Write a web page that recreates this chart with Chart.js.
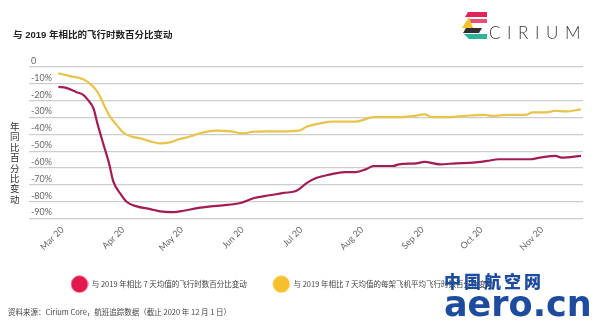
<!DOCTYPE html>
<html>
<head>
<meta charset="utf-8">
<script src="https://cdn.jsdelivr.net/npm/chart.js@4/dist/chart.umd.min.js"></script>
<style>
  html, body { margin: 0; padding: 0; background: #fff; }
  #wrap { position: relative; width: 600px; height: 325px; overflow: hidden; }
  #chart { position: absolute; left: 0; top: 0; }
  .yTitle { position: absolute; left: 10px; top: 121px; width: 11px; font: 9.5px/10.4px "Noto Sans CJK SC", sans-serif; color: #333; word-break: break-all; }
  .source { position: absolute; left: 8px; top: 306px; font: 7.5px "Noto Sans CJK SC", sans-serif; color: #444; white-space: nowrap; }
  .logo { position: absolute; left: 460px; top: 10px; }
  .logo span { position: absolute; left: 29px; top: 12px; font: 300 17px Lato, sans-serif; letter-spacing: 6.6px; color: #3a3a3a; }
  .mark { position: absolute; left: 444px; top: 268px; color: #1d4c9f; font-family: "DejaVu Sans", sans-serif; font-weight: bold; }
  .mark .cn { font-size: 17px; letter-spacing: 3px; font-family: "Noto Sans CJK SC", sans-serif; font-weight: 900; }
  .mark .en { position: absolute; left: 0; top: 16px; font-size: 35px; letter-spacing: 0px; }
</style>
</head>
<body>
<div id="wrap">
  <canvas id="chart" width="600" height="325"></canvas>
  <div class="yTitle">年同比百分比变动</div>
  <div class="source">资料来源：Cirium Core，航班追踪数据（截止 2020 年 12 月 1 日）</div>
  <div class="logo">
    <svg width="28" height="30" viewBox="0 0 28 30">
      <polygon points="8,2 27,2 27,7 5,7" fill="#e2245c"/>
      <polygon points="10,9 27,9 27,13 8,13" fill="#e94f6f"/>
      <polygon points="2,18 9,7 13,18" fill="#f3c230"/>
      <polygon points="6,18 22,18 19,23 3,23" fill="#2f2f2f"/>
      <polygon points="4,24 27,24 27,29 9,29" fill="#2bb39b"/>
    </svg>
    <span>CIRIUM</span>
  </div>
  <div class="mark"><div class="cn">中国航空网</div><div class="en">aero.cn</div></div>
</div>
<script>
// month ticks, counted in days from 1 Mar 2020
const monthStarts = [0, 31, 61, 92, 122, 153, 184, 214, 245]
const monthLabels = ["Mar 20", "Apr 20", "May 20", "Jun 20", "Jul 20", "Aug 20", "Sep 20", "Oct 20", "Nov 20"]

// y grid values
const pctTicks = [0, -10, -20, -30, -40, -50, -60, -70, -80, -90]

// 7-day average flight hours vs 2019 (%)
const hoursDays = [-2, 2, 7, 11, 13, 16, 18, 21, 24, 26, 30, 33, 38, 45, 50, 57, 62, 69, 76, 82, 91, 98, 106, 113, 119, 121, 125, 130, 137, 144, 150, 155, 159, 169, 172, 181, 185, 193, 201, 210, 217, 223, 239, 244, 252, 255, 265]
const hoursChange = [-11.8, -12.4, -14.8, -16.8, -19.4, -24.8, -33.8, -45.8, -57.8, -67.8, -75.8, -80.2, -82.8, -84.4, -85.8, -86.2, -85.4, -83.8, -82.8, -82.2, -80.8, -77.8, -76.2, -74.8, -73.8, -72.5, -68.8, -65.8, -63.8, -62.4, -62.4, -60.8, -58.8, -58.8, -57.8, -57.2, -56.4, -57.8, -57.2, -56.8, -55.8, -54.8, -54.8, -53.8, -52.8, -53.8, -52.8]

// 7-day average flight hours per aircraft vs 2019 (%)
const perAcDays = [-2, 4, 11, 14, 18, 21, 24, 28, 31, 35, 40, 45, 50, 55, 60, 65, 69, 74, 79, 86, 92, 98, 106, 113, 121, 125, 132, 138, 150, 159, 172, 179, 185, 189, 198, 206, 215, 220, 227, 237, 240, 247, 252, 257, 265]
const perAcChange = [-3.8, -5.4, -7.4, -9.8, -14.8, -21.8, -28.8, -34.8, -38.8, -41.2, -42.4, -44.2, -45.4, -44.8, -42.8, -41.4, -39.8, -38.4, -37.8, -38.2, -39.4, -38.4, -38.2, -38.2, -37.8, -35.4, -33.4, -32.4, -32.4, -29.8, -29.8, -29.2, -28.2, -29.8, -29.8, -29.0, -28.4, -29.0, -28.4, -28.4, -27.0, -27.0, -26.0, -26.4, -25.2]

const seriesNames = ["与 2019 年相比 7 天均值的飞行时数百分比变动", "与 2019 年相比 7 天均值的每架飞机平均飞行时数百分比变动"]
const lineColors = ["#a31b57", "#e8c44a"]
const dotColors = ["#e2194c", "#f6c02c"]

// round legend markers drawn once on small canvases
makeDot = (color) => {
	const c = document.createElement("canvas")
	c.width = 18
	c.height = 18
	const ctx = c.getContext("2d")
	ctx.fillStyle = color
	ctx.beginPath()
	ctx.arc(9, 9, 8.5, 0, Math.PI * 2)
	ctx.fill()
	return c
}
const dots = dotColors.map(makeDot)

const toPoints = (xs, ys) => xs.map((x, i) => ({x: x, y: ys[i]}))

// push the legend row right so it starts under the plot
const legendShift = {
	id: "legendShift",
	afterLayout: (chart) => {
		chart.legend.left += 32
		chart.legend.right += 32
	}
}

const tickFont = {family: "Lato, 'Open Sans', sans-serif", size: 9}

new Chart(document.getElementById("chart"), {
	type: "line",
	data: {
		datasets: [
			{label: seriesNames[0], data: toPoints(hoursDays, hoursChange), borderColor: lineColors[0], borderWidth: 2.2, pointRadius: 0, cubicInterpolationMode: "monotone"},
			{label: seriesNames[1], data: toPoints(perAcDays, perAcChange), borderColor: lineColors[1], borderWidth: 2.2, pointRadius: 0, cubicInterpolationMode: "monotone"}
		]
	},
	options: {
		responsive: false,
		animation: false,
		devicePixelRatio: 1,
		layout: {padding: {left: 13, right: 17, top: 0, bottom: 27}},
		plugins: {
			tooltip: {enabled: false},
			title: {
				display: true,
				text: "与 2019 年相比的飞行时数百分比变动",
				align: "start",
				color: "#222",
				font: {family: "'Liberation Sans', 'Noto Sans CJK SC', sans-serif", size: 9.5, weight: "bold"},
				padding: {top: 30, bottom: 25.6}
			},
			legend: {
				position: "bottom",
				align: "start",
				labels: {
					usePointStyle: true,
					pointStyleWidth: 17,
					padding: 26,
					color: "#444",
					font: {family: "'Noto Sans CJK SC', sans-serif", size: 7.5},
					generateLabels: (chart) => chart.data.datasets.map((ds, i) => ({
						text: ds.label,
						pointStyle: dots[i],
						fillStyle: dotColors[i],
						strokeStyle: "transparent",
						lineWidth: 0,
						fontColor: "#444",
						hidden: false,
						datasetIndex: i
					}))
				}
			}
		},
		scales: {
			x: {
				type: "linear",
				min: -17,
				max: 266,
				grid: {display: false},
				border: {display: false},
				afterBuildTicks: (scale) => { scale.ticks = monthStarts.map(v => ({value: v})) },
				afterFit: (scale) => { scale.height = 36 },
				ticks: {
					autoSkip: false,
					maxRotation: 45,
					minRotation: 45,
					padding: -2,
					color: "#666",
					font: tickFont,
					callback: (v, i) => monthLabels[i]
				}
			},
			y: {
				min: -90,
				max: 0,
				afterBuildTicks: (scale) => { scale.ticks = pctTicks.map(v => ({value: v})) },
				afterFit: (scale) => { scale.width = 16 },
				grid: {color: "#cdcdcd", lineWidth: 1.2, drawTicks: false},
				border: {display: false},
				ticks: {
					mirror: true,
					padding: 2,
					labelOffset: -6,
					color: "#666",
					font: tickFont,
					callback: (v) => v === 0 ? "0" : v + "%"
				}
			}
		}
	},
	plugins: [legendShift]
})
</script>
</body>
</html>
